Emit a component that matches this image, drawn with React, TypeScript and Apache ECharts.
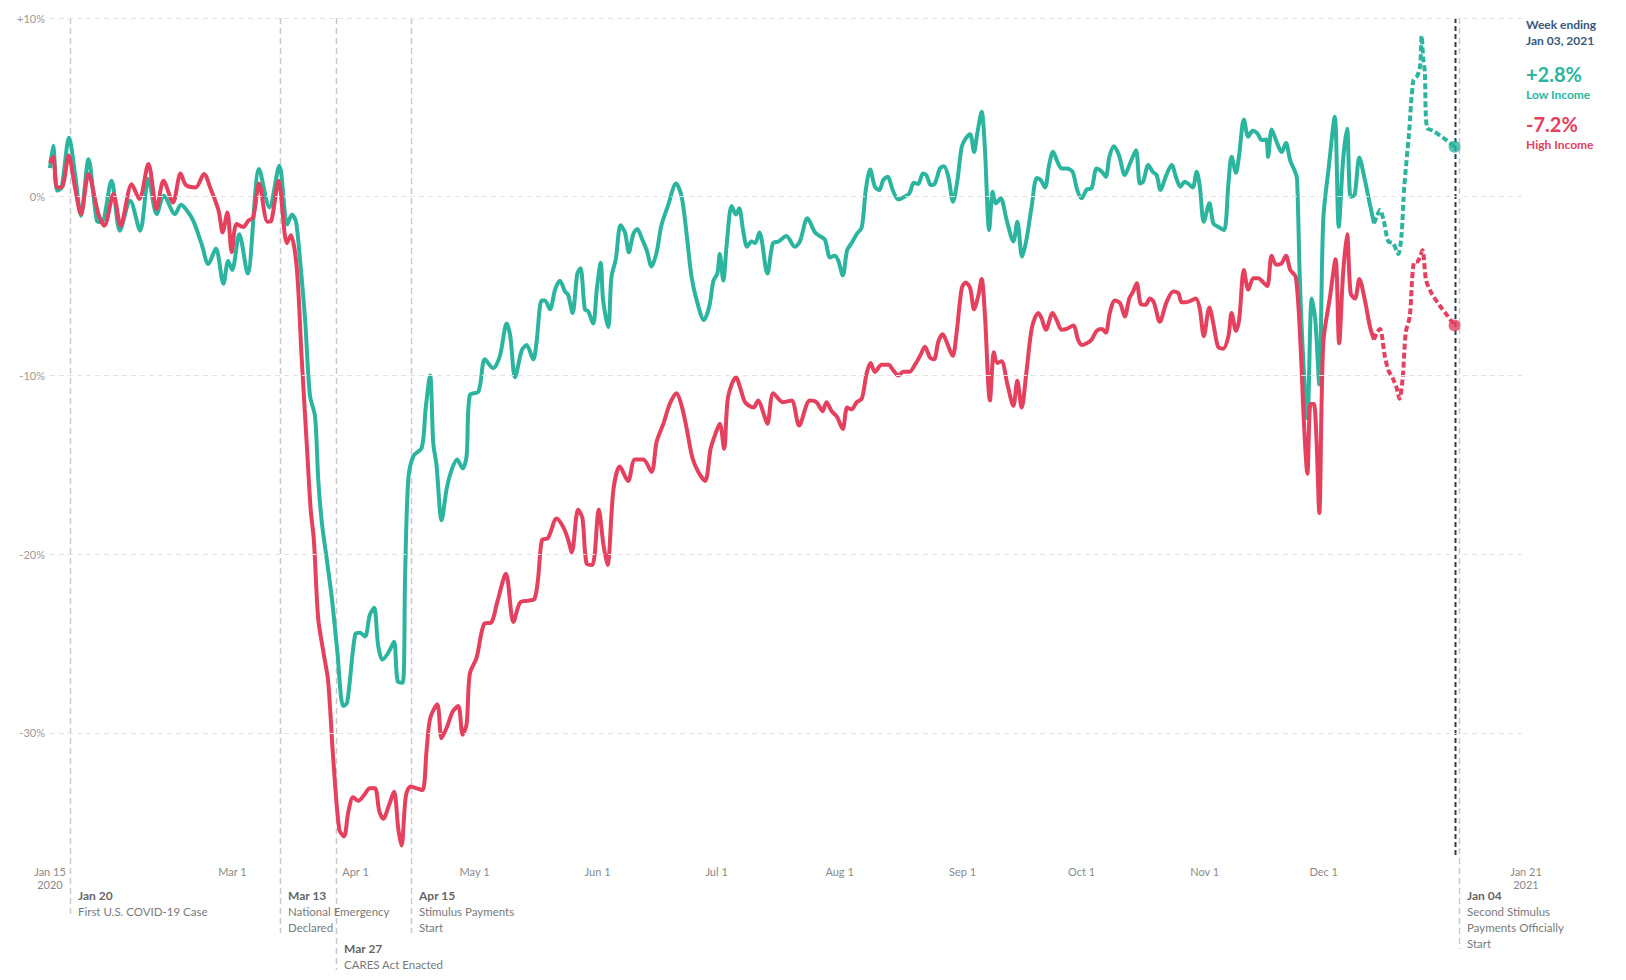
import React, { useEffect, useRef } from "react";
import * as echarts from "echarts";

// day offsets are days since Jan 15, 2020
const START_DATE = "2020-01-15";
const AXIS_END_DATE = "2021-01-21";

const lowIncome: number[][] = [
  [0, 1.6], [0.8, 2.85], [1.8, 0.34], [2.9, 0.5], [4.8, 3.3], [6.3, 1.3], [7.8, -1.06], [9.7, 2.1],
  [11.8, -1.34], [13, -1.43], [15.5, 0.9], [17.6, -1.9], [20.2, -0.22], [22.7, -1.9], [24.8, 1.0],
  [26.9, -0.97], [28.7, 0.06], [31.5, -0.97], [33, -0.45], [34.4, -0.74], [36.1, -1.34], [38.2, -2.64],
  [39.9, -3.76], [41.8, -2.9], [43.7, -4.87], [44.9, -3.6], [45.9, -4.1], [47.7, -2.1], [49.8, -4.3],
  [52.7, 1.55], [55.3, -0.6], [57.8, 1.73], [59.8, -1.55], [61, -1.0], [62, -1.4], [63, -3.5],
  [64.3, -6.9], [65.5, -11.1], [66.8, -12.3], [67.6, -15.8], [68.5, -18.2], [69.7, -20.2], [71, -22.4],
  [72.4, -25.4], [73.9, -28.5], [74.9, -28.3], [76.9, -24.5], [78.1, -24.4], [79.4, -24.6], [80.6, -23.4],
  [81.7, -23.0], [82.7, -25.1], [83.8, -25.9], [85.3, -25.5], [86.7, -24.9], [87.6, -27.1], [88.9, -27.2],
  [89.5, -21.2], [90.3, -15.8], [91.6, -14.5], [93.7, -14.05], [94.7, -11.8], [95.8, -10.0], [96.6, -13.8],
  [97.4, -15.0], [98.7, -18.1], [100, -16.3], [101.2, -15.3], [102.6, -14.7], [104, -15.2], [105, -14.5],
  [105.8, -11.1], [108, -10.9], [109.6, -9.1], [111.7, -9.6], [113.4, -8.9], [115.1, -7.1], [116, -7.8],
  [117.2, -10.1], [118.9, -8.6], [120.1, -8.3], [121.8, -9.1], [122.6, -8.2], [123.9, -5.8], [124.7, -5.8],
  [126, -6.3], [127.3, -5.2], [128.5, -4.7], [129.8, -5.3], [130.6, -5.5], [131.7, -6.5], [132.9, -4.3],
  [133.7, -4.0], [134.8, -6.3], [135.6, -6.4], [136.9, -7.1], [137.8, -5.2], [138.8, -3.7], [139.4, -5.8],
  [140.7, -7.3], [141.5, -4.5], [142.6, -3.5], [143.8, -1.6], [144.9, -2.0], [145.9, -3.1], [147, -2.1],
  [148, -1.8], [149.1, -2.3], [150.4, -3.0], [151.6, -3.9], [152.9, -3.1], [154.1, -1.6], [155.8, -0.47],
  [157.8, 0.74], [159.2, 0], [160.4, -2.0], [161.7, -4.5], [163, -5.8], [164.8, -6.9], [166.2, -6.1],
  [167.2, -4.7], [168.2, -4.3], [168.8, -3.2], [169.7, -4.7], [170.5, -2.8], [171.8, -0.52], [172.9, -1.0],
  [173.7, -0.65], [174.7, -1.9], [175.7, -2.8], [176.8, -2.5], [177.7, -2.6], [178.8, -2.0], [180.8, -4.3],
  [182.2, -2.6], [183.6, -2.5], [185.6, -2.2], [187.7, -2.8], [189, -2.5], [190.9, -1.2], [192.8, -2.0],
  [194, -2.2], [195.3, -2.4], [196.6, -3.4], [197.8, -3.3], [198.7, -3.6], [199.8, -4.4], [200.9, -3.0],
  [202, -2.6], [203.3, -2.1], [204.6, -1.7], [205.6, 0.37], [206.7, 1.53], [207.9, 0.56], [209, 0.37],
  [210, 0.93], [211.1, 1.12], [212.4, 0.37], [213.8, -0.15], [215, -0.04], [216.6, 0.19], [217.7, 0.78],
  [218.8, 0.71], [220, 1.3], [220.9, 1.2], [222, 0.65], [223, 0.74], [224.3, 1.58], [225.3, 1.71],
  [226.4, 1.12], [227.6, -0.28], [228.7, 0.93], [229.8, 2.8], [230.8, 3.26], [231.9, 3.5], [232.9, 2.5],
  [233.7, 3.54], [234.8, 4.75], [235.6, 2.8], [236.7, -1.86], [237.6, 0.28], [238.4, -0.37], [239.6, -0.09],
  [241.1, -1.3], [242.8, -2.5], [243.8, -1.4], [245, -3.35], [246.1, -2.4], [247.4, -0.56], [248.7, 1.05],
  [249.7, 0.93], [250.8, 0.52], [251.8, 1.77], [252.8, 2.51], [253.9, 1.96], [255, 1.58], [256.2, 1.58],
  [257.7, 1.4], [258.9, 0.37], [260, -0.09], [261.3, 0.41], [262.5, 0.47], [263.8, 1.58], [265.1, 1.4],
  [266.1, 1.12], [267, 2.23], [268.1, 2.83], [269.4, 2.33], [270.9, 1.21], [272.2, 1.86], [273.7, 2.6],
  [274.7, 0.74], [275.5, 0.84], [276.8, 1.77], [277.9, 1.4], [278.9, 1.21], [279.9, 0.37], [281.2, 1.12],
  [282.7, 1.77], [283.9, 1.02], [284.9, 0.56], [286, 0.84], [286.8, 0.74], [288, 0.52], [289, 1.4],
  [289.8, 0.56], [290.8, -1.4], [292.2, -0.37], [293.2, -1.49], [294.4, -1.68], [295.9, -1.86], [297, 0.74],
  [297.8, 2.23], [298.9, 1.34], [299.7, 2.33], [300.9, 4.32], [302, 3.35], [303.1, 3.69], [304.3, 3.54],
  [305.4, 3.17], [306.5, 3.2], [307, 2.23], [307.9, 3.76], [309.1, 3.1], [310.4, 2.5], [311.5, 3.0],
  [312.6, 2.0], [313.8, 1.4], [314.3, 1.0], [315, -4.65], [315.9, -9.3], [316.9, -12.4], [318, -5.7],
  [318.9, -6.9], [319.9, -10.5], [320.9, -1.3], [322.3, 1.68], [323.8, 4.47], [324.8, -1.68], [325.9, 2.05],
  [326.9, 3.8], [327.8, 0], [328.8, 0.09], [330, 2.2], [331.4, 0.93], [332.7, -0.47], [333.7, -1.49],
];

const lowIncomeRecent: number[][] = [
  [333.7, -1.49], [334.4, -1.1], [335.2, -0.74], [336.1, -1.3], [337.3, -2.5], [338.5, -2.6], [339.8, -3.2],
  [340.6, -2.2], [341.3, 0.5], [342.5, 3.5], [343.6, 6.5], [344.6, 6.76], [345.3, 7.3], [345.7, 9.0],
  [346.1, 7.7], [346.5, 7.0], [347, 3.87], [348.6, 3.69], [351.1, 3.3], [354, 2.8],
];

const highIncome: number[][] = [
  [0, 1.9], [0.8, 2.23], [1.8, 0.52], [3.2, 0.6], [4.7, 2.3], [6.3, 0.52], [7.8, -0.97], [9.7, 1.27],
  [12.2, -0.97], [13.7, -1.62], [16, 0.15], [17.8, -1.62], [20.6, 0.7], [22.5, -0.13], [24.8, 1.83],
  [26.9, -0.69], [28.6, 0.9], [31, -0.32], [32.9, 1.3], [34.2, 0.67], [36.7, 0.52], [38.8, 1.27],
  [40.5, 0.43], [42.5, -0.78], [43.5, -2.0], [44.7, -0.88], [45.8, -3.1], [47, -1.53], [48.7, -1.7],
  [50, -1.34], [51.2, -1.16], [52.7, 0.74], [54.8, -1.4], [55.8, -1.34], [57.6, 0.9], [59.7, -2.6],
  [60.7, -2.15], [62.2, -4.0], [63.4, -8.9], [64.7, -13.8], [65.7, -17.5], [66.5, -19.2], [67.6, -23.6],
  [69, -25.6], [70.1, -27.1], [71.4, -31.5], [72.9, -35.4], [74.1, -35.8], [75.2, -34.4], [76.4, -33.6],
  [77.7, -33.8], [79.1, -33.5], [80.6, -33.1], [81.9, -33.1], [83, -34.4], [84, -34.8], [85.5, -34.0],
  [86.7, -33.3], [87.8, -35.4], [88.6, -36.3], [89.7, -33.5], [90.9, -33.0], [92.4, -33.1], [93.9, -33.2],
  [94.9, -31.0], [95.8, -29.2], [97.6, -28.4], [98.7, -30.3], [100, -29.7], [101.5, -28.8], [102.9, -28.5],
  [104, -30.1], [105, -29.5], [105.8, -26.7], [107.5, -25.8], [109.4, -23.9], [111.3, -23.8], [112.7, -22.7],
  [114.9, -21.1], [116.8, -23.8], [118.5, -22.7], [120.6, -22.6], [122.1, -22.5], [123, -21.4], [124, -19.2],
  [125.5, -19.1], [127.7, -18.0], [129.4, -18.5], [130.6, -19.2], [131.5, -19.9], [133.1, -17.5],
  [134.2, -18.0], [135.2, -20.5], [136.7, -20.6], [138.3, -17.5], [139.5, -19.5], [140.5, -20.6],
  [142, -16.4], [143.6, -15.1], [145.7, -15.9], [147.4, -14.7], [149.5, -14.7], [151.6, -15.4],
  [152.9, -13.7], [154.6, -12.7], [156.2, -11.6], [157.9, -11.0], [159.2, -11.7], [160.4, -12.9],
  [161.9, -14.6], [163.4, -15.4], [165.1, -15.9], [166.5, -14.1], [167.5, -13.4], [168.8, -12.7],
  [169.9, -14.1], [170.9, -11.2], [172.9, -10.1], [174.1, -10.8], [175.2, -11.5], [177.3, -11.8],
  [178.5, -11.4], [179.8, -12.1], [180.8, -12.7], [182.3, -11.0], [184.8, -11.5], [186.9, -11.4],
  [188.8, -12.8], [191.5, -11.4], [193.2, -11.5], [194.7, -12.0], [195.7, -11.5], [197, -12.0],
  [198.3, -12.3], [199.8, -13.0], [200.9, -11.8], [202, -11.9], [203.3, -11.5], [204.6, -11.3],
  [205.8, -9.9], [206.8, -9.3], [207.9, -9.8], [209.6, -9.4], [211.3, -9.4], [212.5, -9.7], [213.8, -10.0],
  [215, -9.8], [216.6, -9.8], [218, -9.4], [219.3, -8.9], [220.5, -8.4], [221.8, -9.0], [222.8, -9.1],
  [223.9, -8.1], [225, -7.7], [226.1, -8.2], [227.5, -8.9], [228.5, -7.6], [229.8, -5.1], [230.8, -4.8],
  [231.9, -5.1], [232.9, -6.3], [234, -5.5], [234.8, -4.6], [235.6, -6.5], [236.9, -11.4], [237.9, -8.7],
  [238.7, -9.3], [239.8, -9.2], [241.3, -10.5], [242.8, -11.7], [243.8, -10.3], [244.9, -11.8],
  [246.1, -9.8], [247.5, -7.3], [249.1, -6.5], [249.9, -6.8], [251, -7.45], [252.7, -6.5], [253.7, -6.9],
  [255, -7.45], [256.2, -7.4], [257.9, -7.2], [259.1, -8.0], [260, -8.3], [261.3, -8.2], [262.5, -8.0],
  [263.8, -7.5], [265.1, -7.4], [266.1, -7.6], [267.1, -6.5], [268.4, -5.8], [269.7, -5.96], [270.9, -6.7],
  [272, -5.7], [273, -5.3], [273.9, -4.84], [274.9, -6.0], [276.1, -6.05], [277.2, -5.7], [278.2, -5.9],
  [279.7, -7.0], [281.4, -5.9], [283.1, -5.3], [284.4, -5.4], [285.2, -5.9], [286.4, -5.9], [287.7, -5.8],
  [288.8, -5.7], [289.8, -6.3], [290.8, -7.8], [292.2, -6.2], [293.2, -7.1], [294.4, -8.4], [295.7, -8.5],
  [297, -7.8], [297.8, -6.5], [298.9, -7.5], [299.7, -6.9], [300.9, -4.1], [302, -5.2], [303.3, -4.56],
  [304.5, -4.56], [305.8, -4.8], [306.8, -5.0], [307.9, -3.3], [309, -3.8], [310.3, -3.75], [311.5, -3.3],
  [312.6, -4.1], [314, -4.5], [315.2, -8.4], [316, -12.5], [316.9, -15.5], [317.7, -11.6], [318.5, -11.6],
  [319.2, -13.6], [319.9, -17.7], [320.9, -8.2], [322.6, -5.6], [324, -3.5], [324.9, -8.2], [325.9, -4.3],
  [326.9, -2.1], [327.8, -5.4], [328.9, -5.7], [330, -4.6], [331.4, -5.8], [332.7, -7.3], [333.7, -8.0],
];

const highIncomeRecent: number[][] = [
  [333.7, -8.0], [334.4, -7.6], [335.2, -7.4], [336.4, -8.9], [337.3, -9.7], [338.5, -10.2], [339.4, -10.7],
  [340.1, -11.3], [340.9, -10.2], [341.7, -7.6], [342.7, -6.7], [343.7, -3.7], [344.8, -3.6], [345.9, -3.0],
  [346.8, -4.65], [348.2, -5.4], [350.3, -6.1], [352, -6.6], [354, -7.2],
];

const yTicks = [10, 0, -10, -20, -30];

const xTickDates = [
  "2020-01-15", "2020-03-01", "2020-04-01", "2020-05-01", "2020-06-01", "2020-07-01",
  "2020-08-01", "2020-09-01", "2020-10-01", "2020-11-01", "2020-12-01", "2021-01-21",
];
const xTickLabels = [
  "Jan 15\n2020", "Mar 1", "Apr 1", "May 1", "Jun 1", "Jul 1",
  "Aug 1", "Sep 1", "Oct 1", "Nov 1", "Dec 1", "Jan 21\n2021",
];

const eventDates = ["2020-01-20", "2020-03-13", "2020-03-27", "2020-04-15", "2021-01-04"];
const eventTitles = ["Jan 20", "Mar 13", "Mar 27", "Apr 15", "Jan 04"];
const eventTexts = [
  ["First U.S. COVID-19 Case"],
  ["National Emergency", "Declared"],
  ["CARES Act Enacted"],
  ["Stimulus Payments", "Start"],
  ["Second Stimulus", "Payments Officially", "Start"],
];
const weekEndingDate = "2021-01-03";
const weekEndingLabel = ["Week ending", "Jan 03, 2021"];
const seriesNames = ["Low Income", "High Income"];

const TEAL = "#2bb59f";
const RED = "#e5405e";
const NAVY = "#22425f";
const FONT = "Lato, 'Noto Sans', sans-serif";
const DAY_MS = 86400000;

const toTime = (s: string) => new Date(s + "T00:00:00Z").getTime();
const START = toTime(START_DATE);
const toPoints = (arr: number[][]) => arr.map(([d, v]) => [START + d * DAY_MS, v]);
const fmtPct = (v: number) => (v > 0 ? "+" : "") + v + "%";
const fmtPct1 = (v: number) => (v > 0 ? "+" : "") + v.toFixed(1) + "%";

export default function App() {
  const ref = useRef<HTMLDivElement>(null);

  useEffect(() => {
    if (!ref.current) return;
    const chart = echarts.init(ref.current, undefined, { renderer: "svg" });
    const lowLast = lowIncomeRecent[lowIncomeRecent.length - 1];
    const highLast = highIncomeRecent[highIncomeRecent.length - 1];

    chart.setOption({
      animation: false,
      grid: { left: 50, right: 100, top: 18, bottom: 122 },
      xAxis: {
        type: "time",
        min: START,
        max: toTime(AXIS_END_DATE),
        axisLine: { show: false },
        axisTick: { show: false },
        axisLabel: { show: false },
        splitLine: { show: false },
      },
      yAxis: {
        type: "value",
        min: -37,
        max: 10,
        axisLine: { show: false },
        axisTick: { show: false },
        axisLabel: { show: false },
        splitLine: { show: false },
      },
      series: [
        {
          type: "line",
          name: "grid",
          data: [[START, 0]],
          showSymbol: false,
          lineStyle: { opacity: 0 },
          z: 1,
          silent: true,
          markLine: {
            silent: true,
            symbol: ["none", "none"],
            lineStyle: { color: "#e3e3e3", type: [5, 4], width: 1 },
            label: {
              position: "start",
              distance: 5,
              formatter: (p: any) => fmtPct(p.value),
              color: "#9a9a9a",
              fontSize: 11,
              fontFamily: FONT,
            },
            data: yTicks.map((v) => ({ yAxis: v })),
          },
        },
        {
          type: "line",
          name: seriesNames[0],
          data: toPoints(lowIncome),
          smooth: 0.3,
          showSymbol: false,
          lineStyle: { color: TEAL, width: 4 },
          z: 3,
        },
        {
          type: "line",
          name: seriesNames[0] + " recent",
          data: toPoints(lowIncomeRecent),
          smooth: 0.3,
          showSymbol: false,
          lineStyle: { color: TEAL, width: 4, type: [6, 3] },
          z: 3,
        },
        {
          type: "line",
          name: seriesNames[1],
          data: toPoints(highIncome),
          smooth: 0.3,
          showSymbol: false,
          lineStyle: { color: RED, width: 4 },
          z: 4,
        },
        {
          type: "line",
          name: seriesNames[1] + " recent",
          data: toPoints(highIncomeRecent),
          smooth: 0.3,
          showSymbol: false,
          lineStyle: { color: RED, width: 4, type: [6, 3] },
          z: 4,
        },
        {
          type: "scatter",
          symbolSize: 12,
          z: 5,
          data: [
            { value: toPoints([lowLast])[0], itemStyle: { color: TEAL } },
            { value: toPoints([highLast])[0], itemStyle: { color: RED } },
          ],
        },
      ],
    });

    const px = (date: string) => chart.convertToPixel({ xAxisIndex: 0 }, toTime(date)) as number;
    const top = chart.convertToPixel({ yAxisIndex: 0 }, 10) as number;
    const bottom = chart.convertToPixel({ yAxisIndex: 0 }, -37) as number;

    const graphic: any[] = [];
    // x tick labels
    xTickDates.forEach((d, i) => {
      graphic.push({
        type: "text",
        x: px(d),
        y: bottom + 7,
        silent: true,
        style: {
          text: xTickLabels[i],
          fill: "#8a8a8a",
          fontSize: 11,
          fontFamily: FONT,
          align: "center",
          verticalAlign: "top",
          lineHeight: 13,
        },
      });
    });

    // event annotations
    const titleRows = [0, 0, 1, 0, 0];
    const lineEnds = [916, 933, 970, 933, 949];
    eventDates.forEach((d, i) => {
      const x = Math.round(px(d)) + 0.5;
      graphic.push({
        type: "line",
        silent: true,
        z: -1,
        shape: { x1: x, y1: top, x2: x, y2: lineEnds[i] },
        style: { stroke: "#c9c9c9", lineWidth: 1.5, lineDash: [6, 4] },
      });
      const ty = titleRows[i] === 0 ? 895 : 948;
      graphic.push({
        type: "text",
        x: x + 7.5,
        y: ty,
        silent: true,
        style: {
          text: eventTitles[i],
          fill: "#666666",
          fontSize: 12,
          fontWeight: "bold",
          fontFamily: FONT,
          align: "left",
          verticalAlign: "middle",
        },
      });
      eventTexts[i].forEach((t, j) => {
        graphic.push({
          type: "text",
          x: x + 7.5,
          y: ty + 16 * (j + 1),
          silent: true,
          style: {
            text: t,
            fill: "#7a7a7a",
            fontSize: 11.5,
            fontFamily: FONT,
            align: "left",
            verticalAlign: "middle",
          },
        });
      });
    });

    // week ending line
    const wx = Math.round(px(weekEndingDate)) + 0.5;
    graphic.push({
      type: "line",
      silent: true,
      z: -1,
      shape: { x1: wx, y1: top, x2: wx, y2: bottom - 2 },
      style: { stroke: NAVY, lineWidth: 2, lineDash: [5, 3] },
    });

    // right side readout
    const rx = px(AXIS_END_DATE);
    const readout = [
      { text: weekEndingLabel[0], y: 24, fill: "#35597a", size: 12, weight: "bold" },
      { text: weekEndingLabel[1], y: 40, fill: "#35597a", size: 12, weight: "bold" },
      { text: fmtPct1(lowLast[1]), y: 73.5, fill: TEAL, size: 20, weight: "bold" },
      { text: seriesNames[0], y: 94, fill: TEAL, size: 12, weight: "bold" },
      { text: fmtPct1(highLast[1]), y: 124, fill: RED, size: 20, weight: "bold" },
      { text: seriesNames[1], y: 144.5, fill: RED, size: 12, weight: "bold" },
    ];
    readout.forEach((r) => {
      graphic.push({
        type: "text",
        x: rx,
        y: r.y,
        silent: true,
        style: {
          text: r.text,
          fill: r.fill,
          fontSize: r.size,
          fontWeight: r.weight,
          fontFamily: FONT,
          align: "left",
          verticalAlign: "middle",
        },
      });
    });

    chart.setOption({ graphic });

    return () => chart.dispose();
  }, []);

  return (
    <div
      ref={ref}
      style={{ position: "fixed", left: 0, top: 0, width: 1626, height: 980, background: "#fff" }}
    />
  );
}
